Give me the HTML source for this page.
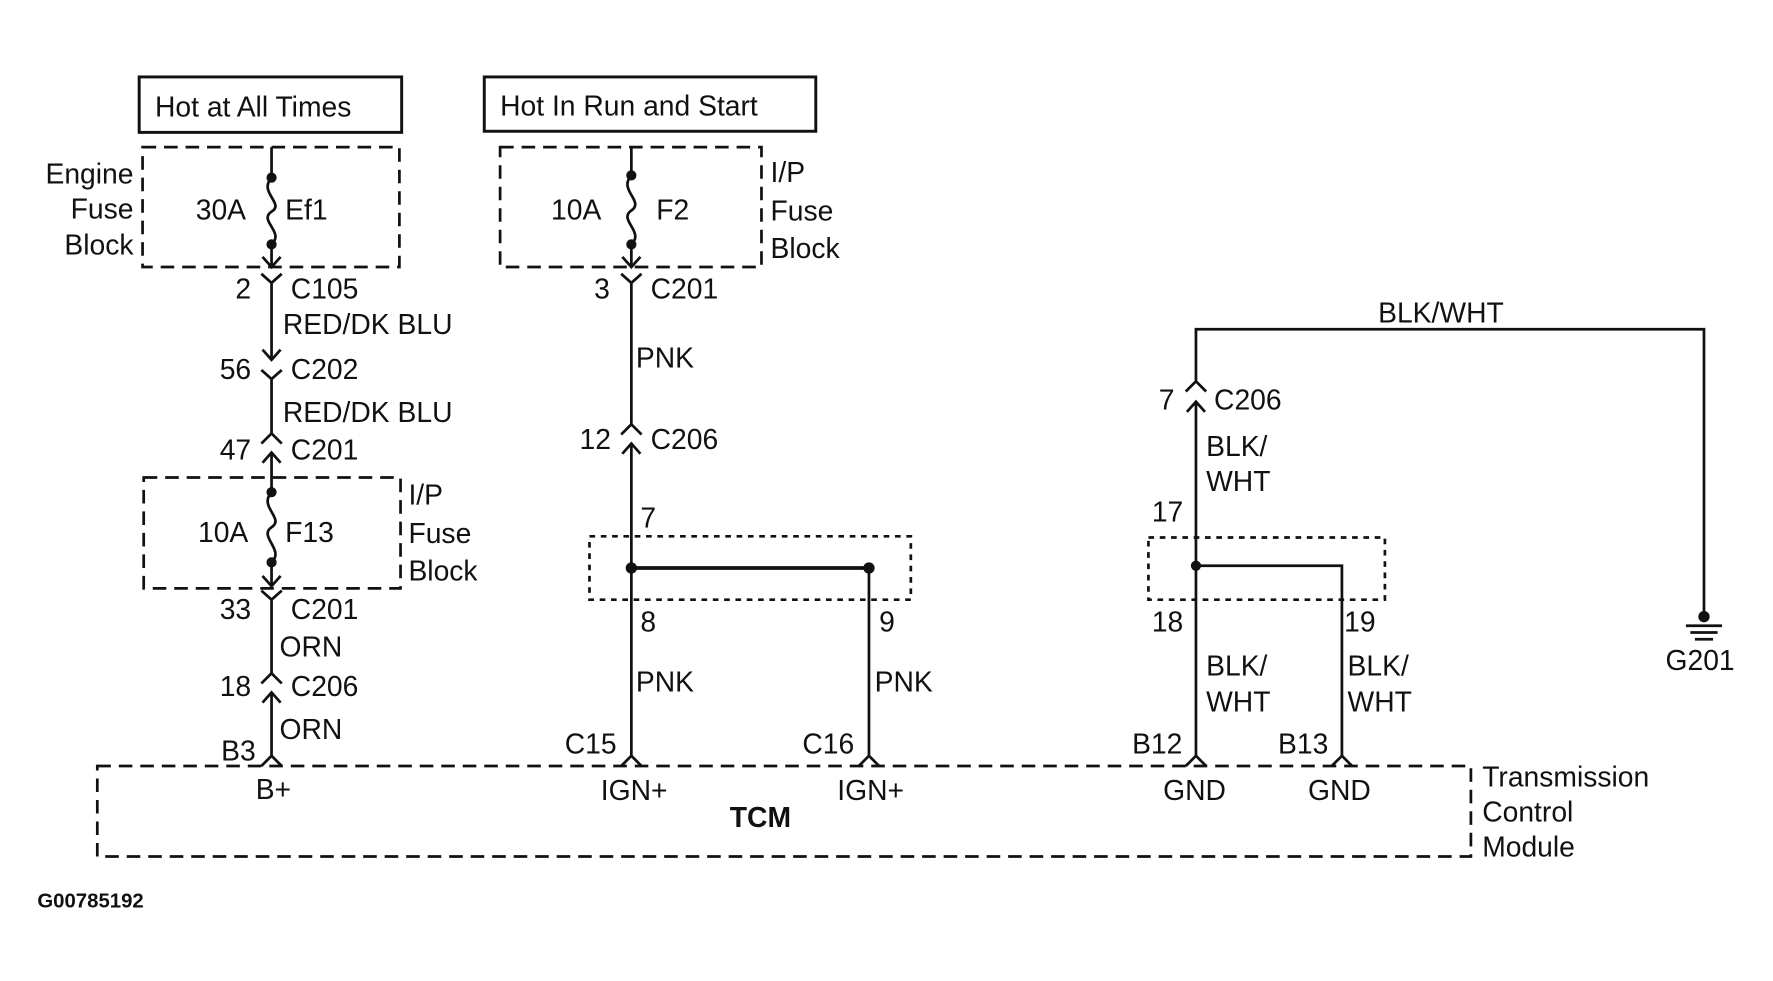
<!DOCTYPE html>
<html><head><meta charset="utf-8"><style>
html,body{margin:0;padding:0;background:#fff;}
svg{display:block;}
text{font-family:"Liberation Sans",sans-serif;font-size:25px;fill:#111;}
</style></head><body>
<svg width="1773" height="981" viewBox="0 0 1567 867" preserveAspectRatio="none" xmlns="http://www.w3.org/2000/svg">
<rect width="1567" height="867" fill="#fff"/>
<g fill="none" stroke="#111" stroke-width="2.4">
<rect x="123" y="68" width="232" height="49" stroke-width="2.6"/>
<rect x="428" y="68" width="293" height="48" stroke-width="2.6"/>
<g stroke-dasharray="12,7">
<rect x="126" y="130" width="227" height="106"/>
<rect x="442" y="130" width="231" height="106"/>
<rect x="127" y="422" width="227" height="98"/>
<path d="M86 677 H1300 V757 H86 Z"/>
</g>
<g stroke-dasharray="5,5">
<rect x="521" y="474" width="284" height="56"/>
<rect x="1015" y="475" width="209" height="55"/>
</g>
<path d="M240 130 V157 M240 157 C228 170,252 180,240 187 C228 195,252 205,240 216 M240 216 V236"/>
<path d="M232 227 L240 236 L248 227"/>
<path d="M231 242 L240 250 L249 242 M240 250 V318"/>
<path d="M232 309 L240 318 L248 309"/>
<path d="M231 327 L240 335 L249 327 M240 335 V383"/>
<path d="M231 392 L240 383 L249 392"/>
<path d="M232 409 L240 400 L248 409 M240 400 V435"/>
<path d="M240 435 C228 448,252 458,240 466 C228 474,252 486,240 497 M240 497 V518"/>
<path d="M232 509 L240 518 L248 509"/>
<path d="M231 522 L240 530 L249 522 M240 530 V595"/>
<path d="M231 604 L240 595 L249 604"/>
<path d="M232 621 L240 612 L248 621 M240 612 V668"/>
<path d="M231 677 L240 668 L249 677"/>
<path d="M558 130 V155 M558 155 C546 168,570 178,558 186 C546 194,570 205,558 216 M558 216 V236"/>
<path d="M550 227 L558 236 L566 227"/>
<path d="M549 242 L558 250 L567 242 M558 250 V375"/>
<path d="M549 384 L558 375 L567 384"/>
<path d="M550 401 L558 392 L566 401 M558 392 V668"/>
<path d="M549 677 L558 668 L567 677"/>
<path d="M558 502 H768" stroke-width="3.4"/>
<path d="M768 502 V668"/>
<path d="M759 677 L768 668 L777 677"/>
<path d="M1057 337 V291 H1506 V545"/>
<path d="M1048 346 L1057 337 L1066 346"/>
<path d="M1049 364 L1057 355 L1065 364 M1057 355 V668"/>
<path d="M1048 677 L1057 668 L1066 677"/>
<path d="M1057 500 H1186 V668"/>
<path d="M1177 677 L1186 668 L1195 677"/>
<path d="M1490 553 H1522 M1494 559 H1518 M1498 565 H1514"/>
</g>
<g fill="#111">
<circle cx="240" cy="157" r="4.5"/><circle cx="240" cy="216" r="4.5"/>
<circle cx="558" cy="155" r="4.5"/><circle cx="558" cy="216" r="4.5"/>
<circle cx="240" cy="435" r="4.5"/><circle cx="240" cy="497" r="4.5"/>
<circle cx="558" cy="502" r="5"/><circle cx="768" cy="502" r="5"/>
<circle cx="1057" cy="500" r="4.5"/><circle cx="1506" cy="545" r="5"/>
</g>
<text x="137" y="103">Hot at All Times</text>
<text x="442" y="102">Hot In Run and Start</text>
<g text-anchor="end">
<text x="118" y="162">Engine</text>
<text x="118" y="193">Fuse</text>
<text x="118" y="225">Block</text>
<text x="222" y="264">2</text>
<text x="222" y="335">56</text>
<text x="222" y="406">47</text>
<text x="222" y="547">33</text>
<text x="222" y="615">18</text>
<text x="226" y="672">B3</text>
<text x="539" y="264">3</text>
<text x="540" y="397">12</text>
<text x="545" y="666">C15</text>
<text x="755" y="666">C16</text>
<text x="1038" y="362">7</text>
<text x="1045" y="666">B12</text>
<text x="1174" y="666">B13</text>
</g>
<text x="173" y="194">30A</text><text x="252" y="194">Ef1</text>
<text x="487" y="194">10A</text><text x="580" y="194">F2</text>
<text x="681" y="161">I/P</text><text x="681" y="195">Fuse</text><text x="681" y="228">Block</text>
<text x="257" y="264">C105</text>
<text x="250" y="295">RED/DK BLU</text>
<text x="257" y="335">C202</text>
<text x="250" y="373">RED/DK BLU</text>
<text x="257" y="406">C201</text>
<text x="175" y="479">10A</text><text x="252" y="479">F13</text>
<text x="361" y="446">I/P</text><text x="361" y="480">Fuse</text><text x="361" y="513">Block</text>
<text x="257" y="547">C201</text>
<text x="247" y="580">ORN</text>
<text x="257" y="615">C206</text>
<text x="247" y="653">ORN</text>
<text x="575" y="264">C201</text>
<text x="562" y="325">PNK</text>
<text x="575" y="397">C206</text>
<text x="566" y="466">7</text>
<text x="566" y="558">8</text>
<text x="777" y="558">9</text>
<text x="562" y="611">PNK</text>
<text x="773" y="611">PNK</text>
<text x="226" y="706">B+</text>
<text x="531" y="707">IGN+</text>
<text x="740" y="707">IGN+</text>
<text x="645" y="731" style="font-weight:bold">TCM</text>
<text x="1028" y="707">GND</text>
<text x="1156" y="707">GND</text>
<text x="1310" y="695">Transmission</text>
<text x="1310" y="726">Control</text>
<text x="1310" y="757">Module</text>
<text x="1218" y="285">BLK/WHT</text>
<text x="1073" y="362">C206</text>
<text x="1066" y="403">BLK/</text><text x="1066" y="434">WHT</text>
<text x="1018" y="461">17</text>
<text x="1018" y="558">18</text>
<text x="1188" y="558">19</text>
<text x="1066" y="597">BLK/</text><text x="1066" y="629">WHT</text>
<text x="1191" y="597">BLK/</text><text x="1191" y="629">WHT</text>
<text x="1472" y="592">G201</text>
<text x="33" y="802" style="font-size:18px;font-weight:bold">G00785192</text>
</svg>
</body></html>
